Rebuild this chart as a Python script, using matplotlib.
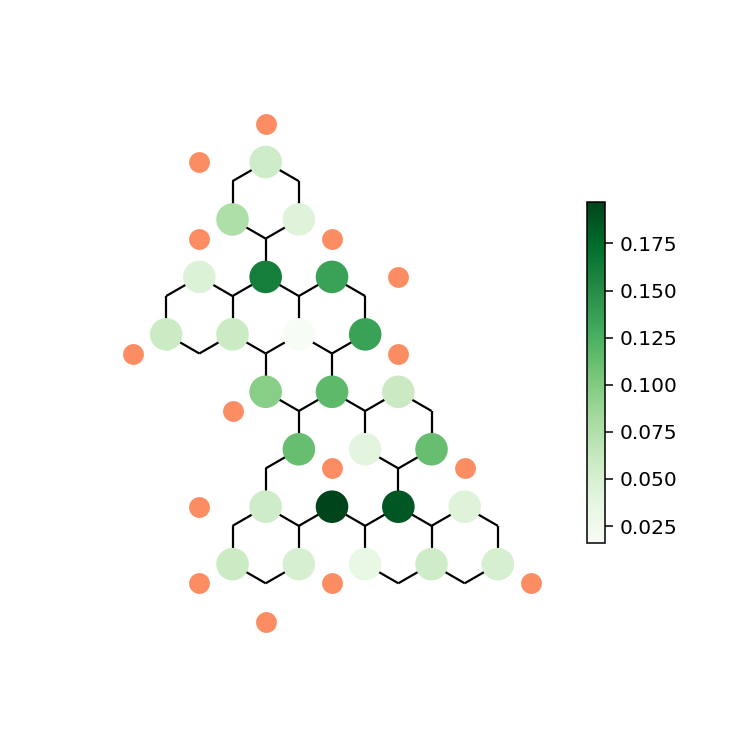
import numpy as np
import matplotlib
matplotlib.use('Agg')
import matplotlib.pyplot as plt
from matplotlib.collections import LineCollection

# Carbon sites on a honeycomb lattice: (row level, half-column)
site_level = [0, 1, 1, 2, 2, 3, 4, 4, 4, 5, 5, 5, 5, 6, 6, 6, 6, 7, 7, 7,
	8, 8, 8, 9, 9, 9, 10, 10, 10, 11, 11, 12, 12, 12, 12,
	13, 13, 13, 13, 13, 14, 14, 14, 14, 14, 15, 15, 15]
site_col = [4, 3, 5, 3, 5, 4, 2, 4, 6, 1, 3, 5, 7, 1, 3, 5, 7, 2, 4, 6,
	4, 6, 8, 5, 7, 9, 5, 7, 9, 4, 8, 4, 6, 8, 10,
	3, 5, 7, 9, 11, 3, 5, 7, 9, 11, 4, 8, 10]
nan = np.nan
# value per site (nan = not shown, minority sublattice)
site_density = [0.056, nan, nan, 0.076, 0.043, nan, 0.045, 0.161, 0.135, nan, nan, nan, nan,
	0.058, 0.058, 0.016, 0.135, nan, nan, nan,
	0.096, 0.116, 0.059, nan, nan, nan, 0.112, 0.040, 0.112, nan, nan,
	0.055, 0.197, 0.186, 0.043, nan, nan, nan, nan, nan,
	0.058, 0.050, 0.034, 0.057, 0.050, nan, nan, nan]

# Hydrogen sites
h_level = [-1, 0, 3, 3, 4, 7, 7, 9, 11, 11, 12, 15, 15, 15, 16]
h_col = [4, 2, 2, 6, 8, 0, 8, 3, 6, 10, 2, 2, 6, 12, 4]


def lattice_xy(level, col):
	level = np.asarray(level)
	col = np.asarray(col)
	x = col * np.sqrt(3) / 2
	y = -(1.5 * (level // 2) + 0.5 * (level % 2))
	return x, y


def bonds(x, y):
	segs = []
	for i in range(len(x)):
		for j in range(i + 1, len(x)):
			if abs(np.hypot(x[i] - x[j], y[i] - y[j]) - 1) < 0.05:
				segs.append([(x[i], y[i]), (x[j], y[j])])
	return segs


fig = plt.figure(figsize=(7.5, 7.5), dpi=100)
scale = 38.3  # pixels per bond length
ax = fig.add_axes([0, 0, 1, 1])
ax.set_xlim(-133 / scale, (750 - 133) / scale)
ax.set_ylim(-(750 - 162) / scale, 162 / scale)
ax.axis('off')

cx, cy = lattice_xy(site_level, site_col)
ax.add_collection(LineCollection(bonds(cx, cy), colors='black', linewidths=1.6, zorder=1))

dens = np.array(site_density)
shown = ~np.isnan(dens)
sc = ax.scatter(cx[shown], cy[shown], c=dens[shown], cmap='Greens', s=550,
	linewidths=0, zorder=2)

hx, hy = lattice_xy(h_level, h_col)
ax.scatter(hx, hy, color='#fc8d62', s=225, linewidths=0, zorder=2)

cax = fig.add_axes([587 / 750, (750 - 543) / 750, 18 / 750, 341 / 750])
cb = fig.colorbar(sc, cax=cax)
cb.outline.set_linewidth(1.1)
cax.tick_params(labelsize=14.5, length=5.5, width=1.1, pad=5)

plt.savefig('out.png')
